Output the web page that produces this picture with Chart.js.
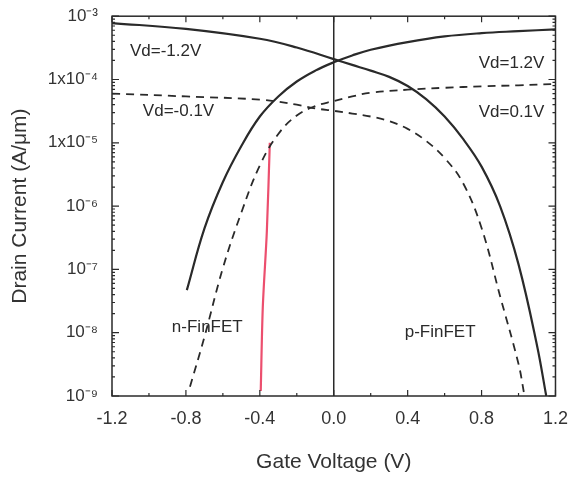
<!DOCTYPE html>
<html>
<head>
<meta charset="utf-8">
<script src="https://cdn.jsdelivr.net/npm/chart.js@4"></script>
<style>
  html, body { margin: 0; padding: 0; background: #fff; }
  #wrap { width: 572px; height: 483px; }
</style>
</head>
<body>
<div id="wrap"><canvas id="ivChart" width="572" height="483"></canvas></div>
<script>
// gate voltage ticks and drain current decades
const xTicks = [-1.2, -0.8, -0.4, 0.0, 0.4, 0.8, 1.2];
const yDecades = [1e-9, 1e-8, 1e-7, 1e-6, 1e-5, 1e-4, 1e-3];
const yTickLabels = ["10\u207B\u2079", "10\u207B\u2078", "10\u207B\u2077", "10\u207B\u2076",
    "1x10\u207B\u2075", "1x10\u207B\u2074", "10\u207B\u00B3"];

// p-FinFET, Vd=-1.2V (solid)
const pHighVg = [-1.2, -0.8, -0.4, -0.2, 0.0, 0.1, 0.2, 0.3, 0.4, 0.5, 0.6, 0.7, 0.8, 0.9, 1.0, 1.1, 1.15];
const pHighId = [7.8e-4, 6.3e-4, 4.4e-4, 3.2e-4, 2.1e-4, 1.7e-4, 1.38e-4, 1.1e-4, 7.9e-5, 4.9e-5, 2.6e-5, 1.15e-5, 4.2e-6, 1.0e-6, 1.2e-7, 6.3e-9, 1e-9];

// n-FinFET, Vd=1.2V (solid)
const nHighVg = [-0.795, -0.7, -0.6, -0.5, -0.4, -0.3, -0.2, -0.1, 0.0, 0.1, 0.2, 0.4, 0.6, 0.8, 1.0, 1.2];
const nHighId = [4.7e-8, 4.4e-7, 2.4e-6, 8.9e-6, 2.6e-5, 5.4e-5, 9.3e-5, 1.38e-4, 1.87e-4, 2.4e-4, 2.95e-4, 3.9e-4, 4.8e-4, 5.4e-4, 5.8e-4, 6.2e-4];

// p-FinFET, Vd=-0.1V (dashed)
const pLowVg = [-1.2, -0.8, -0.4, -0.2, -0.1, 0.0, 0.1, 0.2, 0.3, 0.4, 0.5, 0.6, 0.7, 0.8, 0.9, 1.0, 1.03];
const pLowId = [6.0e-5, 5.4e-5, 4.8e-5, 4.0e-5, 3.5e-5, 3.2e-5, 2.9e-5, 2.6e-5, 2.2e-5, 1.66e-5, 1.07e-5, 5.75e-6, 2.3e-6, 4.5e-7, 3.8e-8, 3.2e-9, 1.1e-9];

// n-FinFET, Vd=0.1V (dashed)
const nLowVg = [-0.778, -0.7, -0.6, -0.5, -0.4, -0.3, -0.2, -0.1, 0.0, 0.1, 0.2, 0.4, 0.6, 0.8, 1.0, 1.2];
const nLowId = [1.4e-9, 8.5e-9, 1.05e-7, 7.9e-7, 4.4e-6, 1.38e-5, 2.7e-5, 3.8e-5, 4.57e-5, 5.4e-5, 6.2e-5, 6.9e-5, 7.4e-5, 7.8e-5, 8.1e-5, 8.5e-5];

// red marker line drawn over the figure
const redVg = [-0.346, -0.362, -0.384, -0.395];
const redId = [1e-5, 4e-7, 2.5e-8, 1.2e-9];

// vertical line at Vg = 0
const zeroVg = [0, 0];
const zeroId = [1e-9, 1e-3];

// text labels placed in data coordinates
const notes = [
    { text: "Vd=-1.2V", x: -1.103, y: 2.8e-4, align: "left" },
    { text: "Vd=-0.1V", x: -1.033, y: 3.2e-5, align: "left" },
    { text: "Vd=1.2V", x: 1.14, y: 1.8e-4, align: "right" },
    { text: "Vd=0.1V", x: 1.14, y: 3.0e-5, align: "right" },
    { text: "n-FinFET", x: -0.876, y: 1.23e-8, align: "left" },
    { text: "p-FinFET", x: 0.384, y: 1.0e-8, align: "left" },
];

const pts = (xs, ys) => xs.map((x, i) => ({ x: x, y: ys[i] }));
const ink = "#2a2a2a";

const frameAndNotes = {
    id: "frameAndNotes",
    afterDatasetsDraw(chart) {
        const { ctx, chartArea: a, scales } = chart;
        const xs = scales.x, ys = scales.y;
        ctx.save();
        ctx.strokeStyle = ink;
        ctx.lineWidth = 1.5;
        ctx.strokeRect(a.left, a.top, a.right - a.left, a.bottom - a.top);

        ctx.lineWidth = 1.2;
        ctx.beginPath();
        // x ticks, major every 0.4, minor every 0.2
        for (let k = 0; k <= 12; k++) {
            const v = -1.2 + k * 0.2;
            const px = xs.getPixelForValue(v);
            const len = k % 2 === 0 ? 6 : 3;
            ctx.moveTo(px, a.bottom); ctx.lineTo(px, a.bottom - len);
            ctx.moveTo(px, a.top); ctx.lineTo(px, a.top + len);
        }
        // y ticks, decades and 2..9 minors
        yDecades.forEach((d, i) => {
            const py = ys.getPixelForValue(d);
            ctx.moveTo(a.left, py); ctx.lineTo(a.left + 7, py);
            ctx.moveTo(a.right, py); ctx.lineTo(a.right - 7, py);
            if (i < yDecades.length - 1) {
                for (let m = 2; m <= 9; m++) {
                    const pm = ys.getPixelForValue(d * m);
                    ctx.moveTo(a.left, pm); ctx.lineTo(a.left + 3, pm);
                    ctx.moveTo(a.right, pm); ctx.lineTo(a.right - 3, pm);
                }
            }
        });
        ctx.stroke();

        ctx.fillStyle = ink;
        ctx.font = "17px 'Liberation Sans', Arial, sans-serif";
        ctx.textBaseline = "middle";
        notes.forEach(n => {
            ctx.textAlign = n.align;
            ctx.fillText(n.text, xs.getPixelForValue(n.x), ys.getPixelForValue(n.y));
        });
        ctx.restore();
    }
};

const curve = (xs, ys, width, dash) => ({
    data: pts(xs, ys),
    borderColor: ink,
    borderWidth: width,
    borderDash: dash,
    tension: 0.4,
    pointRadius: 0,
    fill: false,
});

new Chart(document.getElementById("ivChart").getContext("2d"), {
    type: "line",
    data: {
        datasets: [
            { data: pts(zeroVg, zeroId), borderColor: ink, borderWidth: 1.5, pointRadius: 0, tension: 0 },
            curve(pHighVg, pHighId, 2.2, []),
            curve(nHighVg, nHighId, 2.2, []),
            curve(pLowVg, pLowId, 1.8, [8, 6]),
            curve(nLowVg, nLowId, 1.8, [8, 6]),
            { data: pts(redVg, redId), borderColor: "#ec4f6e", borderWidth: 2.2, tension: 0.3, pointRadius: 0 },
        ],
    },
    options: {
        responsive: false,
        animation: false,
        events: [],
        layout: { padding: { top: 14, right: 16, left: 0, bottom: 0 } },
        plugins: { legend: { display: false }, tooltip: { enabled: false } },
        scales: {
            x: {
                type: "linear",
                min: -1.2,
                max: 1.2,
                afterBuildTicks: (s) => { s.ticks = xTicks.map(v => ({ value: v })); },
                afterFit: (s) => { s.height = 87; },
                grid: { display: false },
                border: { display: false },
                ticks: {
                    color: "#333",
                    padding: 4,
                    font: { family: "'Liberation Sans', Arial, sans-serif", size: 18 },
                    callback: (v) => Number(v).toFixed(1),
                },
                title: {
                    display: true,
                    text: "Gate Voltage (V)",
                    color: "#333",
                    font: { family: "'Liberation Sans', Arial, sans-serif", size: 21 },
                    padding: { top: 0, bottom: 8 },
                },
            },
            y: {
                type: "logarithmic",
                min: 1e-9,
                max: 1e-3,
                afterBuildTicks: (s) => { s.ticks = yDecades.map(v => ({ value: v })); },
                afterFit: (s) => { s.width = 112; },
                grid: { display: false },
                border: { display: false },
                ticks: {
                    color: "#333",
                    padding: 6,
                    font: { family: "'Liberation Sans', Arial, sans-serif", size: 17 },
                    callback: (v) => yTickLabels[yDecades.findIndex(d => Math.abs(Math.log10(d) - Math.log10(v)) < 1e-6)],
                },
                title: {
                    display: true,
                    text: "Drain Current (A/\u03BCm)",
                    color: "#333",
                    font: { family: "'Liberation Sans', Arial, sans-serif", size: 21 },
                    padding: { top: 8, bottom: 0 },
                },
            },
        },
    },
    plugins: [frameAndNotes],
});
</script>
</body>
</html>
